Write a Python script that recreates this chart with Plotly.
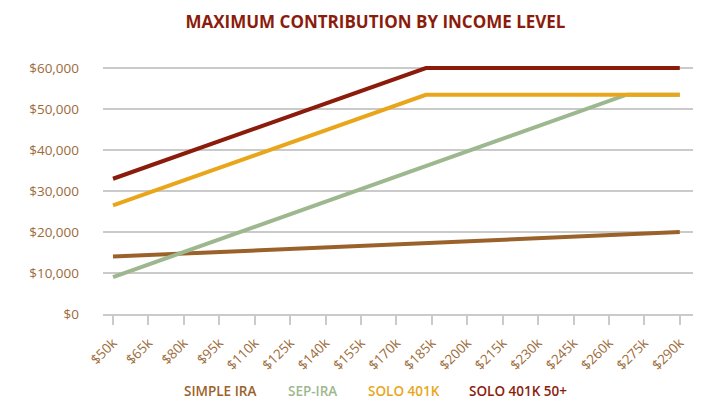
import plotly.graph_objects as go

# ---- data ----
income_ticks = [50000, 65000, 80000, 95000, 110000, 125000, 140000, 155000,
                170000, 185000, 200000, 215000, 230000, 245000, 260000, 275000, 290000]
tick_labels = ["$50k", "$65k", "$80k", "$95k", "$110k", "$125k", "$140k", "$155k",
               "$170k", "$185k", "$200k", "$215k", "$230k", "$245k", "$260k", "$275k", "$290k"]

simple_ira_x = [50000, 290000]
simple_ira_y = [14000, 20000]

sep_ira_x = [50000, 267500, 290000]
sep_ira_y = [9000, 53500, 53500]

solo_401k_x = [50000, 182500, 290000]
solo_401k_y = [26500, 53500, 53500]

solo_401k_50_x = [50000, 182500, 290000]
solo_401k_50_y = [33000, 60000, 60000]

series_names = ["SIMPLE IRA", "SEP-IRA", "SOLO 401K", "SOLO 401K 50+"]
y_ticks = [0, 10000, 20000, 30000, 40000, 50000, 60000]

# ---- style ----
colors = ["#9A622A", "#9DB88E", "#E9A61A", "#8B1C0C"]
label_color = "#9C6B3A"
grid_color = "#CACACA"
FONT = "Open Sans"

OFF = 8  # page body margin
W, H = 720 - OFF, 414 - OFF
Y_TOP_VAL = 61000           # a little headroom so the 60k line is not clipped
PX_60K, PX_0 = 68, 314      # page pixels of the 60k and 0 gridlines
top_px = PX_0 - (PX_0 - PX_60K) * Y_TOP_VAL / 60000
ML, MR, MT, MB = 103 - OFF, 27, top_px - OFF, 100

fig = go.Figure()
xs = [simple_ira_x, sep_ira_x, solo_401k_x, solo_401k_50_x]
ys = [simple_ira_y, sep_ira_y, solo_401k_y, solo_401k_50_y]
for name, x, y, c in zip(series_names, xs, ys, colors):
    fig.add_trace(go.Scatter(x=x, y=y, mode="lines", name=name,
                             line=dict(color=c, width=4), cliponaxis=False,
                             showlegend=False))

# legend as coloured text (page pixel centres)
legend_px = [220.4, 312.2, 403.8, 517.5]
legend_py = 391
plot_w = W - ML - MR
plot_h = H - MT - MB
for name, c, px in zip(series_names, colors, legend_px):
    fig.add_annotation(text=name, xref="paper", yref="paper",
                       x=(px - OFF - ML) / plot_w,
                       y=-((legend_py - OFF) - (H - MB)) / plot_h,
                       xanchor="center", yanchor="middle", showarrow=False,
                       font=dict(family=FONT, size=13.5, color=c, weight=600))

fig.update_layout(
    width=W, height=H,
    margin=dict(l=ML, r=MR, t=MT, b=MB, autoexpand=False),
    paper_bgcolor="white", plot_bgcolor="white",
    title=dict(text="MAXIMUM CONTRIBUTION BY INCOME LEVEL",
               x=(375.5 - OFF) / W, xref="container", xanchor="center",
               y=1 - (21.7 - OFF) / H, yref="container", yanchor="middle",
               font=dict(family=FONT, size=17, color="#8B1C0C", weight=700)),
    font=dict(family=FONT, color=label_color),
)

fig.update_xaxes(
    range=[45760, 295600], automargin=False,
    tickvals=income_ticks, ticktext=tick_labels,
    tickangle=-45, tickfont=dict(family=FONT, size=13.5, color=label_color),
    showgrid=False, zeroline=False,
    showline=True, linecolor=grid_color, linewidth=1.5,
    ticks="outside", ticklen=9, tickwidth=1.5, tickcolor=grid_color,
    ticklabelstandoff=5,
)
fig.update_yaxes(
    range=[0, Y_TOP_VAL], tickvals=y_ticks, tickformat="$,.0f", automargin=False,
    tickfont=dict(family=FONT, size=13.5, color=label_color),
    showgrid=True, gridcolor=grid_color, gridwidth=1.5,
    zeroline=False, showline=False, ticks="", ticklabelstandoff=23,
)

fig.write_html("out.html")
